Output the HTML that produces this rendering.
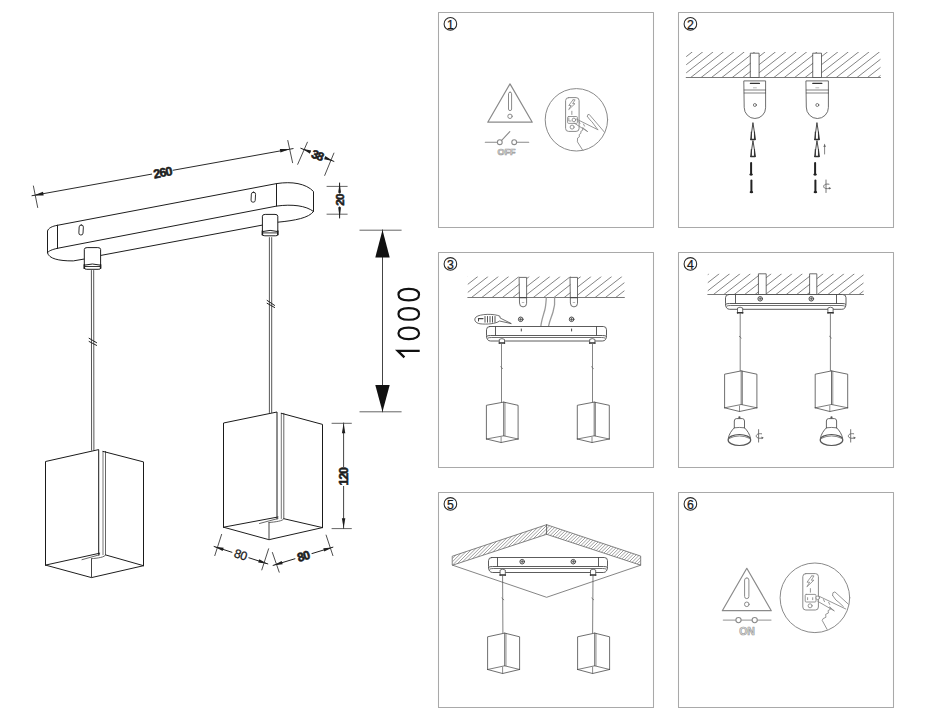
<!DOCTYPE html>
<html><head><meta charset="utf-8"><style>
html,body{margin:0;padding:0;background:#fff;}
svg{display:block;}
</style></head><body>
<svg width="925" height="720" viewBox="0 0 925 720" stroke-linecap="round" stroke-linejoin="round">
<rect width="925" height="720" fill="#fff"/>
<path d="M57.5,225.3 L276.5,183.6 C292,181.2 306,183.5 313.5,191.5 L313.5,210.6" stroke="#1e1e1e" stroke-width="1.0" fill="none" />
<line x1="276.50" y1="183.60" x2="276.50" y2="206.10" stroke="#1e1e1e" stroke-width="1.0" />
<path d="M57.5,248.3 L276.5,206.1 C292,204 306,205.5 313.5,211.5" stroke="#1e1e1e" stroke-width="1.0" fill="none" />
<path d="M313.5,211.5 C309,218 295,220.5 277.8,222.2 L100.9,255.4" stroke="#1e1e1e" stroke-width="1.0" fill="none" />
<path d="M57.5,225.3 C52,226.2 48.5,228 47.5,231 L47.5,252.8" stroke="#1e1e1e" stroke-width="1.0" fill="none" />
<line x1="57.50" y1="225.30" x2="57.50" y2="248.30" stroke="#1e1e1e" stroke-width="1.0" />
<path d="M57.5,248.3 C52,249.5 48.5,251 47.5,252.8 C49,258.5 58,261 73.3,260.9 L84.4,259" stroke="#1e1e1e" stroke-width="1.0" fill="none" />
<rect x="79.0" y="225.0" width="4.2" height="10" rx="2" ry="2" fill="none" stroke="#1e1e1e" stroke-width="0.9" transform="rotate(3 81.1 230)"/>
<rect x="251.2" y="192.2" width="4.2" height="10" rx="2" ry="2" fill="none" stroke="#1e1e1e" stroke-width="0.9" transform="rotate(3 253.3 197.2)"/>
<path d="M84.3,268.3 L84.3,249.4 Q84.3,247.6 87.1,247.6 L97.8,247.6 Q100.6,247.6 100.6,249.4 L100.6,268.3 Q100.6,269.3 98.1,269.3 L86.8,269.3 Q84.3,269.3 84.3,268.3 Z" stroke="#1e1e1e" stroke-width="1.0" fill="#fff" />
<path d="M84.3,265.09999999999997 Q92.44999999999999,262.8 100.6,265.09999999999997" stroke="#1e1e1e" stroke-width="1.0" fill="none" />
<line x1="84.90" y1="266.50" x2="100.00" y2="266.50" stroke="#1e1e1e" stroke-width="0.9" />
<line x1="84.30" y1="264.70" x2="84.30" y2="268.30" stroke="#1e1e1e" stroke-width="1.5" />
<line x1="100.60" y1="264.70" x2="100.60" y2="268.30" stroke="#1e1e1e" stroke-width="1.5" />
<path d="M262.4,234.8 L262.4,216.20000000000002 Q262.4,214.4 265.2,214.4 L275.0,214.4 Q277.8,214.4 277.8,216.20000000000002 L277.8,234.8 Q277.8,235.8 275.3,235.8 L264.9,235.8 Q262.4,235.8 262.4,234.8 Z" stroke="#1e1e1e" stroke-width="1.0" fill="#fff" />
<path d="M262.4,231.5 Q270.1,229.2 277.8,231.5" stroke="#1e1e1e" stroke-width="1.0" fill="none" />
<line x1="263.00" y1="232.90" x2="277.20" y2="232.90" stroke="#1e1e1e" stroke-width="0.9" />
<line x1="262.40" y1="231.10" x2="262.40" y2="234.80" stroke="#1e1e1e" stroke-width="1.5" />
<line x1="277.80" y1="231.10" x2="277.80" y2="234.80" stroke="#1e1e1e" stroke-width="1.5" />
<line x1="91.40" y1="270.50" x2="91.60" y2="450.20" stroke="#444" stroke-width="0.9" />
<line x1="93.70" y1="270.50" x2="93.90" y2="450.20" stroke="#444" stroke-width="0.9" />
<line x1="269.40" y1="237.60" x2="269.40" y2="412.50" stroke="#444" stroke-width="0.9" />
<line x1="271.70" y1="237.60" x2="271.70" y2="412.50" stroke="#444" stroke-width="0.9" />
<line x1="89.10" y1="338.30" x2="96.60" y2="342.70" stroke="#222" stroke-width="1.0" />
<line x1="89.10" y1="341.50" x2="96.60" y2="345.40" stroke="#222" stroke-width="1.0" />
<line x1="267.10" y1="300.40" x2="274.60" y2="305.40" stroke="#222" stroke-width="1.0" />
<line x1="267.10" y1="303.30" x2="274.60" y2="307.50" stroke="#222" stroke-width="1.0" />
<line x1="32.00" y1="195.70" x2="293.10" y2="148.60" stroke="#2a2a2a" stroke-width="1.0" />
<polygon points="33.50,195.40 43.02,191.85 43.66,195.39" fill="#1e1e1e" stroke="none" stroke-width="0"/>
<polygon points="290.00,149.00 280.48,152.54 279.84,149.00" fill="#1e1e1e" stroke="none" stroke-width="0"/>
<line x1="33.40" y1="186.00" x2="37.70" y2="207.50" stroke="#3a3a3a" stroke-width="0.9" />
<line x1="287.80" y1="140.50" x2="292.60" y2="162.70" stroke="#3a3a3a" stroke-width="0.9" />
<rect x="152" y="167" width="21" height="11" fill="#fff" transform="rotate(-10.2 162.5 172.5)"/>
<text x="162.50" y="172.90" font-family="Liberation Sans" font-size="12.5" font-weight="bold" fill="#1e1e1e" text-anchor="middle" dominant-baseline="central" letter-spacing="-0.9" transform="rotate(-10.2 162.50 172.90)" stroke="#111" stroke-width="0.55" paint-order="stroke">260</text>
<line x1="307.40" y1="142.20" x2="297.70" y2="164.30" stroke="#3a3a3a" stroke-width="0.9" />
<line x1="333.90" y1="153.10" x2="324.70" y2="175.40" stroke="#3a3a3a" stroke-width="0.9" />
<line x1="300.80" y1="148.30" x2="333.90" y2="161.40" stroke="#1e1e1e" stroke-width="1.0" />
<polygon points="302.30,148.80 311.33,150.43 310.01,153.78" fill="#1e1e1e" stroke="none" stroke-width="0"/>
<polygon points="333.00,160.90 323.97,159.28 325.28,155.93" fill="#1e1e1e" stroke="none" stroke-width="0"/>
<rect x="310" y="150" width="15" height="10" fill="#fff" transform="rotate(22 317.3 155.1)"/>
<text x="317.30" y="155.40" font-family="Liberation Sans" font-size="12" font-weight="bold" fill="#1e1e1e" text-anchor="middle" dominant-baseline="central" letter-spacing="-1.0" transform="rotate(22 317.30 155.40)" stroke="#111" stroke-width="0.55" paint-order="stroke">38</text>
<line x1="327.00" y1="186.40" x2="347.20" y2="186.40" stroke="#555" stroke-width="0.9" />
<line x1="327.00" y1="214.20" x2="347.20" y2="214.20" stroke="#555" stroke-width="0.9" />
<line x1="339.60" y1="183.00" x2="339.60" y2="218.00" stroke="#1e1e1e" stroke-width="1.0" />
<polygon points="339.60,183.00 341.00,192.80 338.20,192.80" fill="#1e1e1e" stroke="none" stroke-width="0"/>
<polygon points="339.60,217.80 338.20,207.20 341.00,207.20" fill="#1e1e1e" stroke="none" stroke-width="0"/>
<rect x="334" y="193.5" width="11" height="13" fill="#fff"/>
<text x="339.80" y="200.00" font-family="Liberation Sans" font-size="11.8" font-weight="bold" fill="#1e1e1e" text-anchor="middle" dominant-baseline="central" letter-spacing="-0.9" transform="rotate(-90 339.80 200.00)" stroke="#111" stroke-width="0.55" paint-order="stroke">20</text>
<line x1="359.90" y1="230.20" x2="401.20" y2="230.20" stroke="#555" stroke-width="0.9" />
<line x1="359.90" y1="411.80" x2="401.20" y2="411.80" stroke="#555" stroke-width="0.9" />
<line x1="382.50" y1="229.90" x2="382.50" y2="411.80" stroke="#444" stroke-width="1.0" />
<polygon points="382.50,229.90 375.30,257.40 389.70,257.40" fill="#111" stroke="none" stroke-width="0"/>
<polygon points="382.50,411.80 375.30,384.90 389.70,384.90" fill="#111" stroke="none" stroke-width="0"/>
<path d="M398.45,294.6 C398.45,288.8 404.836,288.8 408.75,288.8 C412.664,288.8 419.05,288.8 419.05,294.6 C419.05,300.40000000000003 412.664,300.40000000000003 408.75,300.40000000000003 C404.836,300.40000000000003 398.45,300.40000000000003 398.45,294.6 Z" stroke="#111" stroke-width="2.15" fill="none" />
<path d="M398.45,313.95 C398.45,308.15 404.836,308.15 408.75,308.15 C412.664,308.15 419.05,308.15 419.05,313.95 C419.05,319.75 412.664,319.75 408.75,319.75 C404.836,319.75 398.45,319.75 398.45,313.95 Z" stroke="#111" stroke-width="2.15" fill="none" />
<path d="M398.45,333.35 C398.45,327.55 404.836,327.55 408.75,327.55 C412.664,327.55 419.05,327.55 419.05,333.35 C419.05,339.15000000000003 412.664,339.15000000000003 408.75,339.15000000000003 C404.836,339.15000000000003 398.45,339.15000000000003 398.45,333.35 Z" stroke="#111" stroke-width="2.15" fill="none" />
<path d="M419.7,350.9 L397.8,350.9 L404.4,357.4" stroke="#111" stroke-width="2.3" fill="none" stroke-linecap="butt" stroke-linejoin="miter"/>
<path d="M45.5,565.1 L45.5,461.5 L98.7,449.6 L98.7,555.2" stroke="#1a1a1a" stroke-width="1.0" fill="none" />
<line x1="103.00" y1="451.40" x2="103.00" y2="554.70" stroke="#666" stroke-width="0.9" />
<line x1="105.50" y1="451.40" x2="105.50" y2="554.70" stroke="#555" stroke-width="0.9" />
<path d="M103.0,451.4 L143.5,461.9 L143.5,565.7" stroke="#1a1a1a" stroke-width="1.0" fill="none" />
<path d="M45.5,565.1 L91.5,577.6 L143.5,565.7" stroke="#1e1e1e" stroke-width="1.0" fill="none" />
<path d="M45.5,565.1 L99.7,553.2" stroke="#1e1e1e" stroke-width="1.0" fill="none" />
<path d="M105.5,554.9000000000001 L143.5,565.7" stroke="#1e1e1e" stroke-width="1.0" fill="none" />
<line x1="91.50" y1="577.60" x2="91.50" y2="558.70" stroke="#444" stroke-width="1.0" />
<path d="M82.0,559.7 L99.7,554.7 M91.5,558.7 C97.5,558.2 105.5,557.2 105.5,554.9000000000001" stroke="#555" stroke-width="0.9" fill="none" />
<path d="M223.5,527.2 L223.5,423.0 L277.0,412.0 L277.0,519.0" stroke="#1a1a1a" stroke-width="1.0" fill="none" />
<line x1="281.30" y1="413.30" x2="281.30" y2="518.50" stroke="#666" stroke-width="0.9" />
<line x1="283.80" y1="413.30" x2="283.80" y2="518.50" stroke="#555" stroke-width="0.9" />
<path d="M281.3,413.3 L322.5,424.4 L322.5,527.6" stroke="#1a1a1a" stroke-width="1.0" fill="none" />
<path d="M223.5,527.2 L269.0,539.7 L322.5,527.6" stroke="#1e1e1e" stroke-width="1.0" fill="none" />
<path d="M223.5,527.2 L278.0,517.0" stroke="#1e1e1e" stroke-width="1.0" fill="none" />
<path d="M283.8,518.7 L322.5,527.6" stroke="#1e1e1e" stroke-width="1.0" fill="none" />
<line x1="269.00" y1="539.70" x2="269.00" y2="522.50" stroke="#444" stroke-width="1.0" />
<path d="M259.5,523.5 L278.0,518.5 M269.0,522.5 C275.0,522.0 283.8,521.0 283.8,518.7" stroke="#555" stroke-width="0.9" fill="none" />
<line x1="332.00" y1="423.30" x2="351.40" y2="423.30" stroke="#555" stroke-width="0.9" />
<line x1="332.00" y1="528.60" x2="351.40" y2="528.60" stroke="#555" stroke-width="0.9" />
<line x1="343.60" y1="423.00" x2="343.60" y2="528.60" stroke="#444" stroke-width="1.0" />
<polygon points="343.60,423.30 345.30,433.30 341.90,433.30" fill="#1e1e1e" stroke="none" stroke-width="0"/>
<polygon points="343.60,528.30 341.90,518.30 345.30,518.30" fill="#1e1e1e" stroke="none" stroke-width="0"/>
<rect x="338" y="467" width="12" height="19" fill="#fff"/>
<text x="343.80" y="476.70" font-family="Liberation Sans" font-size="12.2" font-weight="bold" fill="#1e1e1e" text-anchor="middle" dominant-baseline="central" letter-spacing="-1.0" transform="rotate(-90 343.80 476.70)" stroke="#111" stroke-width="0.55" paint-order="stroke">120</text>
<line x1="221.60" y1="534.40" x2="214.80" y2="555.60" stroke="#3a3a3a" stroke-width="0.9" />
<line x1="214.10" y1="546.50" x2="267.80" y2="563.90" stroke="#1e1e1e" stroke-width="1.0" />
<polygon points="214.60,546.70 223.69,547.86 222.64,551.10" fill="#1e1e1e" stroke="none" stroke-width="0"/>
<polygon points="267.30,563.70 258.21,562.55 259.26,559.31" fill="#1e1e1e" stroke="none" stroke-width="0"/>
<line x1="268.60" y1="548.80" x2="261.80" y2="569.90" stroke="#3a3a3a" stroke-width="0.9" />
<rect x="232" y="549.5" width="17" height="11" fill="#fff" transform="rotate(18 240.6 554.8)"/>
<text x="240.60" y="554.90" font-family="Liberation Sans" font-size="12.2" font-weight="normal" fill="#1e1e1e" text-anchor="middle" dominant-baseline="central" letter-spacing="-0.4" transform="rotate(18 240.60 554.90)" stroke="#111" stroke-width="0.25">80</text>
<line x1="272.40" y1="552.50" x2="279.20" y2="572.20" stroke="#3a3a3a" stroke-width="0.9" />
<line x1="273.10" y1="565.40" x2="332.90" y2="547.20" stroke="#1e1e1e" stroke-width="1.0" />
<polygon points="273.60,565.20 281.71,560.95 282.70,564.20" fill="#1e1e1e" stroke="none" stroke-width="0"/>
<polygon points="332.40,547.40 324.26,551.61 323.29,548.35" fill="#1e1e1e" stroke="none" stroke-width="0"/>
<line x1="326.10" y1="535.10" x2="332.90" y2="555.60" stroke="#3a3a3a" stroke-width="0.9" />
<rect x="295" y="551" width="17" height="11" fill="#fff" transform="rotate(-17 303.4 556.3)"/>
<text x="303.40" y="556.50" font-family="Liberation Sans" font-size="12.2" font-weight="bold" fill="#1e1e1e" text-anchor="middle" dominant-baseline="central" letter-spacing="-0.8" transform="rotate(-17 303.40 556.50)" stroke="#111" stroke-width="0.55" paint-order="stroke">80</text>
<rect x="438.5" y="12.5" width="215" height="215" fill="none" stroke="#a9a9a9" stroke-width="1.05"/>
<circle cx="450.4" cy="23.9" r="6.3" fill="none" stroke="#2a2a2a" stroke-width="1.05"/>
<text x="450.30" y="24.60" font-family="Liberation Sans" font-size="12.3" font-weight="normal" fill="#1a1a1a" text-anchor="middle" dominant-baseline="central" letter-spacing="0" transform="rotate(0 450.30 24.60)" stroke="#1a1a1a" stroke-width="0.25">1</text>
<rect x="678.5" y="12.5" width="215" height="215" fill="none" stroke="#a9a9a9" stroke-width="1.05"/>
<circle cx="690.4" cy="23.9" r="6.3" fill="none" stroke="#2a2a2a" stroke-width="1.05"/>
<text x="690.30" y="24.60" font-family="Liberation Sans" font-size="12.3" font-weight="normal" fill="#1a1a1a" text-anchor="middle" dominant-baseline="central" letter-spacing="0" transform="rotate(0 690.30 24.60)" stroke="#1a1a1a" stroke-width="0.25">2</text>
<rect x="438.5" y="252.5" width="215" height="215" fill="none" stroke="#a9a9a9" stroke-width="1.05"/>
<circle cx="450.4" cy="263.9" r="6.3" fill="none" stroke="#2a2a2a" stroke-width="1.05"/>
<text x="450.30" y="264.60" font-family="Liberation Sans" font-size="12.3" font-weight="normal" fill="#1a1a1a" text-anchor="middle" dominant-baseline="central" letter-spacing="0" transform="rotate(0 450.30 264.60)" stroke="#1a1a1a" stroke-width="0.25">3</text>
<rect x="678.5" y="252.5" width="215" height="215" fill="none" stroke="#a9a9a9" stroke-width="1.05"/>
<circle cx="690.4" cy="263.9" r="6.3" fill="none" stroke="#2a2a2a" stroke-width="1.05"/>
<text x="690.30" y="264.60" font-family="Liberation Sans" font-size="12.3" font-weight="normal" fill="#1a1a1a" text-anchor="middle" dominant-baseline="central" letter-spacing="0" transform="rotate(0 690.30 264.60)" stroke="#1a1a1a" stroke-width="0.25">4</text>
<rect x="438.5" y="492.5" width="215" height="215" fill="none" stroke="#a9a9a9" stroke-width="1.05"/>
<circle cx="450.4" cy="503.9" r="6.3" fill="none" stroke="#2a2a2a" stroke-width="1.05"/>
<text x="450.30" y="504.60" font-family="Liberation Sans" font-size="12.3" font-weight="normal" fill="#1a1a1a" text-anchor="middle" dominant-baseline="central" letter-spacing="0" transform="rotate(0 450.30 504.60)" stroke="#1a1a1a" stroke-width="0.25">5</text>
<rect x="678.5" y="492.5" width="215" height="215" fill="none" stroke="#a9a9a9" stroke-width="1.05"/>
<circle cx="690.4" cy="503.9" r="6.3" fill="none" stroke="#2a2a2a" stroke-width="1.05"/>
<text x="690.30" y="504.60" font-family="Liberation Sans" font-size="12.3" font-weight="normal" fill="#1a1a1a" text-anchor="middle" dominant-baseline="central" letter-spacing="0" transform="rotate(0 690.30 504.60)" stroke="#1a1a1a" stroke-width="0.25">6</text>
<path d="M510,83.9 L532.25,122.2 L487.75,122.2 Z" stroke="#8a8a8a" stroke-width="1.2" fill="none" />
<rect x="508.5" y="92.2" width="3.1000000000000227" height="18.39999999999999" rx="1.5500000000000114" fill="none" stroke="#8a8a8a" stroke-width="1"/>
<circle cx="510" cy="116.3" r="2.2" fill="none" stroke="#8a8a8a" stroke-width="1"/>
<line x1="485.30" y1="142.20" x2="497.40" y2="142.20" stroke="#8a8a8a" stroke-width="1.1" />
<line x1="516.70" y1="142.20" x2="528.70" y2="142.20" stroke="#8a8a8a" stroke-width="1.1" />
<circle cx="499.8" cy="142.2" r="2.4" fill="none" stroke="#8a8a8a" stroke-width="1.1"/>
<circle cx="514.2" cy="142.2" r="2.4" fill="none" stroke="#8a8a8a" stroke-width="1.1"/>
<line x1="501.40" y1="140.60" x2="509.80" y2="131.70" stroke="#8a8a8a" stroke-width="1.1" />
<text x="506.60" y="152.40" font-family="Liberation Sans" font-size="9" font-weight="bold" fill="#e6e6e6" text-anchor="middle" dominant-baseline="central" letter-spacing="0" transform="rotate(0 506.60 152.40)" stroke="#999" stroke-width="0.65" letter-spacing="-0.3">OFF</text>
<circle cx="576.4" cy="119.8" r="31.2" fill="none" stroke="#8a8a8a" stroke-width="1"/>
<rect x="565.60" y="97.60" width="13.50" height="33.80" rx="3" fill="none" stroke="#8a8a8a" stroke-width="1"/>
<path d="M573.02,99.79 L575.09,99.79 L572.66,103.66 L575.00,103.66 L568.70,109.60 L571.13,105.46 L568.79,105.46 L573.02,99.79" stroke="#8a8a8a" stroke-width="0.85" fill="none" />
<path d="M571.85,111.22 L571.85,114.46" stroke="#8a8a8a" stroke-width="0.9" fill="none" />
<rect x="567.60" y="116.50" width="9.80" height="6.90" rx="1" fill="none" stroke="#8a8a8a" stroke-width="0.9"/>
<path d="M568.80,118.00 L568.80,121.00 L571.10,121.00" stroke="#8a8a8a" stroke-width="0.8" fill="none" />
<circle cx="572.10" cy="127.10" r="2.0" fill="none" stroke="#8a8a8a" stroke-width="0.9"/>
<circle cx="573.90" cy="119.90" r="1.8" fill="#fff" stroke="#8a8a8a" stroke-width="0.9"/>
<path d="M576.70,119.20 L597.80,129.70" stroke="#8a8a8a" stroke-width="0.9" fill="none" />
<path d="M574.20,123.10 L587.40,131.40" stroke="#8a8a8a" stroke-width="0.9" fill="none" />
<path d="M582.90,127.90 L587.40,131.40" stroke="#8a8a8a" stroke-width="0.9" fill="none" />
<path d="M587.40,116.50 L587.80,114.70 L589.20,114.40 L604.40,132.10" stroke="#8a8a8a" stroke-width="0.9" fill="none" />
<path d="M587.40,116.50 L589.90,119.80 L591.90,121.70 L597.80,129.70" stroke="#8a8a8a" stroke-width="0.9" fill="none" />
<path d="M582.90,127.90 L582.60,130.30 L580.90,131.30 L580.90,133.30 L579.20,134.60 L579.40,136.80 L577.60,138.00 L577.40,141.80 L582.90,150.50" stroke="#8a8a8a" stroke-width="0.9" fill="none" />
<path d="M578.90,121.40 L579.90,123.40" stroke="#8a8a8a" stroke-width="0.9" fill="none" />
<path d="M583.50,124.10 L584.50,126.10" stroke="#8a8a8a" stroke-width="0.9" fill="none" />
<clipPath id="hc1"><rect x="686.2" y="51.9" width="194.29999999999995" height="25.6"/></clipPath>
<g clip-path="url(#hc1)">
<line x1="659.48" y1="77.50" x2="692.30" y2="51.90" stroke="#6e6e6e" stroke-width="0.85" />
<line x1="669.88" y1="77.50" x2="702.70" y2="51.90" stroke="#6e6e6e" stroke-width="0.85" />
<line x1="680.28" y1="77.50" x2="713.10" y2="51.90" stroke="#6e6e6e" stroke-width="0.85" />
<line x1="690.68" y1="77.50" x2="723.50" y2="51.90" stroke="#6e6e6e" stroke-width="0.85" />
<line x1="701.08" y1="77.50" x2="733.90" y2="51.90" stroke="#6e6e6e" stroke-width="0.85" />
<line x1="711.48" y1="77.50" x2="744.30" y2="51.90" stroke="#6e6e6e" stroke-width="0.85" />
<line x1="721.88" y1="77.50" x2="754.70" y2="51.90" stroke="#6e6e6e" stroke-width="0.85" />
<line x1="732.28" y1="77.50" x2="765.10" y2="51.90" stroke="#6e6e6e" stroke-width="0.85" />
<line x1="742.68" y1="77.50" x2="775.50" y2="51.90" stroke="#6e6e6e" stroke-width="0.85" />
<line x1="753.08" y1="77.50" x2="785.90" y2="51.90" stroke="#6e6e6e" stroke-width="0.85" />
<line x1="763.48" y1="77.50" x2="796.30" y2="51.90" stroke="#6e6e6e" stroke-width="0.85" />
<line x1="773.88" y1="77.50" x2="806.70" y2="51.90" stroke="#6e6e6e" stroke-width="0.85" />
<line x1="784.28" y1="77.50" x2="817.10" y2="51.90" stroke="#6e6e6e" stroke-width="0.85" />
<line x1="794.68" y1="77.50" x2="827.50" y2="51.90" stroke="#6e6e6e" stroke-width="0.85" />
<line x1="805.08" y1="77.50" x2="837.90" y2="51.90" stroke="#6e6e6e" stroke-width="0.85" />
<line x1="815.48" y1="77.50" x2="848.30" y2="51.90" stroke="#6e6e6e" stroke-width="0.85" />
<line x1="825.88" y1="77.50" x2="858.70" y2="51.90" stroke="#6e6e6e" stroke-width="0.85" />
<line x1="836.28" y1="77.50" x2="869.10" y2="51.90" stroke="#6e6e6e" stroke-width="0.85" />
<line x1="846.68" y1="77.50" x2="879.50" y2="51.90" stroke="#6e6e6e" stroke-width="0.85" />
<line x1="857.08" y1="77.50" x2="889.90" y2="51.90" stroke="#6e6e6e" stroke-width="0.85" />
<line x1="867.48" y1="77.50" x2="900.30" y2="51.90" stroke="#6e6e6e" stroke-width="0.85" />
<line x1="877.88" y1="77.50" x2="910.70" y2="51.90" stroke="#6e6e6e" stroke-width="0.85" />
</g>
<line x1="686.20" y1="77.50" x2="880.50" y2="77.50" stroke="#6a6a6a" stroke-width="0.9" />
<rect x="750.6999999999999" y="53.2" width="8.4" height="24.3" fill="#fff" stroke="#4a4a4a" stroke-width="0.8"/>
<path d="M744.2,80.9 L765.6,80.9 L765.6,107.80000000000001 A10.699999999999989,10.699999999999989 0 0 1 744.2,107.80000000000001 Z" stroke="#4a4a4a" stroke-width="0.8" fill="#fff" />
<line x1="750.40" y1="83.40" x2="759.40" y2="83.40" stroke="#333" stroke-width="1.3" />
<line x1="744.20" y1="90.00" x2="765.60" y2="90.00" stroke="#4a4a4a" stroke-width="0.7" />
<line x1="744.20" y1="93.00" x2="765.60" y2="93.00" stroke="#4a4a4a" stroke-width="0.7" />
<line x1="753.40" y1="87.80" x2="756.40" y2="87.80" stroke="#888" stroke-width="0.6" />
<circle cx="754.9" cy="105" r="1.5" fill="none" stroke="#4a4a4a" stroke-width="0.7"/>
<rect x="813.0999999999999" y="53.2" width="8.4" height="24.3" fill="#fff" stroke="#4a4a4a" stroke-width="0.8"/>
<path d="M806.3,80.9 L828.4,80.9 L828.4,107.44999999999999 A11.050000000000011,11.050000000000011 0 0 1 806.3,107.44999999999999 Z" stroke="#4a4a4a" stroke-width="0.8" fill="#fff" />
<line x1="812.80" y1="83.40" x2="821.80" y2="83.40" stroke="#333" stroke-width="1.3" />
<line x1="806.30" y1="90.00" x2="828.40" y2="90.00" stroke="#4a4a4a" stroke-width="0.7" />
<line x1="806.30" y1="93.00" x2="828.40" y2="93.00" stroke="#4a4a4a" stroke-width="0.7" />
<line x1="815.80" y1="87.80" x2="818.80" y2="87.80" stroke="#888" stroke-width="0.6" />
<circle cx="817.3" cy="105" r="1.5" fill="none" stroke="#4a4a4a" stroke-width="0.7"/>
<path d="M752.9,123 L750.6999999999999,139.5 L755.1,139.5 Z" stroke="#333" stroke-width="0.9" fill="#fff" />
<path d="M751.3,132.075 L751.3,138.5 M754.5,132.075 L754.5,138.5" stroke="#333" stroke-width="1.1" fill="none" />
<line x1="750.70" y1="139.50" x2="755.10" y2="139.50" stroke="#333" stroke-width="1.3" />
<path d="M752.9,141 L750.6999999999999,156.5 L755.1,156.5 Z" stroke="#333" stroke-width="0.9" fill="#fff" />
<path d="M751.3,149.525 L751.3,155.5 M754.5,149.525 L754.5,155.5" stroke="#333" stroke-width="1.1" fill="none" />
<line x1="750.70" y1="156.50" x2="755.10" y2="156.50" stroke="#333" stroke-width="1.3" />
<line x1="751.10" y1="163.00" x2="751.10" y2="174.10" stroke="#222" stroke-width="2.0" />
<ellipse cx="751.1" cy="174.6" rx="1.8" ry="1.1" fill="#222"/>
<line x1="751.40" y1="180.50" x2="751.40" y2="191.70" stroke="#222" stroke-width="2.0" />
<ellipse cx="751.4" cy="192.2" rx="1.8" ry="1.1" fill="#222"/>
<path d="M816.9,123 L814.6999999999999,139.5 L819.1,139.5 Z" stroke="#333" stroke-width="0.9" fill="#fff" />
<path d="M815.3,132.075 L815.3,138.5 M818.5,132.075 L818.5,138.5" stroke="#333" stroke-width="1.1" fill="none" />
<line x1="814.70" y1="139.50" x2="819.10" y2="139.50" stroke="#333" stroke-width="1.3" />
<path d="M816.9,141 L814.6999999999999,156.5 L819.1,156.5 Z" stroke="#333" stroke-width="0.9" fill="#fff" />
<path d="M815.3,149.525 L815.3,155.5 M818.5,149.525 L818.5,155.5" stroke="#333" stroke-width="1.1" fill="none" />
<line x1="814.70" y1="156.50" x2="819.10" y2="156.50" stroke="#333" stroke-width="1.3" />
<line x1="815.10" y1="163.00" x2="815.10" y2="174.10" stroke="#222" stroke-width="2.0" />
<ellipse cx="815.1" cy="174.6" rx="1.8" ry="1.1" fill="#222"/>
<line x1="815.40" y1="180.50" x2="815.40" y2="191.70" stroke="#222" stroke-width="2.0" />
<ellipse cx="815.4" cy="192.2" rx="1.8" ry="1.1" fill="#222"/>
<line x1="824.60" y1="145.00" x2="824.60" y2="154.00" stroke="#666" stroke-width="0.8" />
<polygon points="824.60,143.50 823.40,147.00 825.80,147.00" fill="#666" stroke="none" stroke-width="0"/>
<line x1="826.00" y1="180.00" x2="826.00" y2="192.50" stroke="#666" stroke-width="0.9" />
<path d="M829.0,184.2 C824.0,183.2 822.5,186.5 824.5,188.0 C826,189.0 828.5,188.6 830.0,188.4" stroke="#666" stroke-width="0.9" fill="none" />
<polygon points="831.20,188.20 828.80,187.00 829.00,189.60" fill="#666" stroke="none" stroke-width="0"/>
<clipPath id="hc2"><rect x="467.8" y="276.6" width="156.59999999999997" height="20.899999999999977"/></clipPath>
<g clip-path="url(#hc2)">
<line x1="440.61" y1="297.50" x2="467.40" y2="276.60" stroke="#6e6e6e" stroke-width="0.85" />
<line x1="450.91" y1="297.50" x2="477.70" y2="276.60" stroke="#6e6e6e" stroke-width="0.85" />
<line x1="461.21" y1="297.50" x2="488.00" y2="276.60" stroke="#6e6e6e" stroke-width="0.85" />
<line x1="471.51" y1="297.50" x2="498.30" y2="276.60" stroke="#6e6e6e" stroke-width="0.85" />
<line x1="481.81" y1="297.50" x2="508.60" y2="276.60" stroke="#6e6e6e" stroke-width="0.85" />
<line x1="492.11" y1="297.50" x2="518.90" y2="276.60" stroke="#6e6e6e" stroke-width="0.85" />
<line x1="502.41" y1="297.50" x2="529.20" y2="276.60" stroke="#6e6e6e" stroke-width="0.85" />
<line x1="512.71" y1="297.50" x2="539.50" y2="276.60" stroke="#6e6e6e" stroke-width="0.85" />
<line x1="523.01" y1="297.50" x2="549.80" y2="276.60" stroke="#6e6e6e" stroke-width="0.85" />
<line x1="533.31" y1="297.50" x2="560.10" y2="276.60" stroke="#6e6e6e" stroke-width="0.85" />
<line x1="543.61" y1="297.50" x2="570.40" y2="276.60" stroke="#6e6e6e" stroke-width="0.85" />
<line x1="553.91" y1="297.50" x2="580.70" y2="276.60" stroke="#6e6e6e" stroke-width="0.85" />
<line x1="564.21" y1="297.50" x2="591.00" y2="276.60" stroke="#6e6e6e" stroke-width="0.85" />
<line x1="574.51" y1="297.50" x2="601.30" y2="276.60" stroke="#6e6e6e" stroke-width="0.85" />
<line x1="584.81" y1="297.50" x2="611.60" y2="276.60" stroke="#6e6e6e" stroke-width="0.85" />
<line x1="595.11" y1="297.50" x2="621.90" y2="276.60" stroke="#6e6e6e" stroke-width="0.85" />
<line x1="605.41" y1="297.50" x2="632.20" y2="276.60" stroke="#6e6e6e" stroke-width="0.85" />
<line x1="615.71" y1="297.50" x2="642.50" y2="276.60" stroke="#6e6e6e" stroke-width="0.85" />
</g>
<line x1="467.80" y1="297.50" x2="624.40" y2="297.50" stroke="#6a6a6a" stroke-width="0.9" />
<path d="M519.5,277.4 L526.6,277.4 L526.6,303.34999999999997 A3.5500000000000114,3.5500000000000114 0 0 1 519.5,303.34999999999997 Z" stroke="#4a4a4a" stroke-width="0.8" fill="#fff" />
<line x1="519.50" y1="297.60" x2="526.60" y2="297.60" stroke="#4a4a4a" stroke-width="1.2" />
<line x1="522.25" y1="302.50" x2="523.85" y2="302.50" stroke="#888" stroke-width="0.6" />
<path d="M570.4,277.4 L577.5,277.4 L577.5,303.34999999999997 A3.5500000000000114,3.5500000000000114 0 0 1 570.4,303.34999999999997 Z" stroke="#4a4a4a" stroke-width="0.8" fill="#fff" />
<line x1="570.40" y1="297.60" x2="577.50" y2="297.60" stroke="#4a4a4a" stroke-width="1.2" />
<line x1="573.15" y1="302.50" x2="574.75" y2="302.50" stroke="#888" stroke-width="0.6" />
<path d="M546.3,297.9 C546,302 545.8,306 544.8,310 C543.5,315 541.5,320 540.9,326" stroke="#9a9a9a" stroke-width="1.3" fill="none" />
<path d="M554.6,297.9 C555,302 554.6,307 553,312 C551.5,317 549.5,321 548.6,326" stroke="#9a9a9a" stroke-width="1.3" fill="none" />
<circle cx="520.7" cy="319.3" r="2.3" fill="#fff" stroke="#444" stroke-width="0.95"/>
<line x1="519.44" y1="319.30" x2="521.97" y2="319.30" stroke="#444" stroke-width="0.8" />
<line x1="520.70" y1="318.04" x2="520.70" y2="320.56" stroke="#444" stroke-width="0.8" />
<circle cx="571.6" cy="319.3" r="2.3" fill="#fff" stroke="#444" stroke-width="0.95"/>
<line x1="570.34" y1="319.30" x2="572.87" y2="319.30" stroke="#444" stroke-width="0.8" />
<line x1="571.60" y1="318.04" x2="571.60" y2="320.56" stroke="#444" stroke-width="0.8" />
<path d="M499.5,316 C494,313.5 480,313.8 476,317 C473.5,319.5 475,323 480,323.8 C487,324.6 496,323.8 499.5,321 L511.3,323.6 L500.5,318.2 Z" stroke="#4a4a4a" stroke-width="0.8" fill="#fff" />
<line x1="478.50" y1="318.60" x2="483.00" y2="318.60" stroke="#444" stroke-width="1.2" />
<line x1="478.50" y1="318.60" x2="478.50" y2="321.00" stroke="#444" stroke-width="1.0" />
<line x1="485.00" y1="316.50" x2="485.00" y2="322.20" stroke="#555" stroke-width="1.0" />
<line x1="487.50" y1="316.50" x2="487.50" y2="322.20" stroke="#555" stroke-width="1.0" />
<line x1="490.00" y1="316.50" x2="490.00" y2="322.20" stroke="#555" stroke-width="1.0" />
<line x1="492.50" y1="316.50" x2="492.50" y2="322.20" stroke="#555" stroke-width="1.0" />
<line x1="495.00" y1="316.50" x2="495.00" y2="322.20" stroke="#555" stroke-width="1.0" />
<path d="M489.7,326.5 L603.3,326.5 Q606.5,326.5 606.5,329.7 L606.5,335.5 Q606.5,341.0 602.3,341.0 L490.7,341.0 Q486.5,341.0 486.5,335.5 L486.5,329.7 Q486.5,326.5 489.7,326.5 Z" stroke="#4a4a4a" stroke-width="0.9" fill="#fff" />
<line x1="495.50" y1="326.50" x2="495.50" y2="335.50" stroke="#4a4a4a" stroke-width="0.9" />
<line x1="596.50" y1="326.50" x2="596.50" y2="335.50" stroke="#4a4a4a" stroke-width="0.9" />
<path d="M486.8,336.1 Q487.7,335.5 490.5,335.5 L602.5,335.5 Q605.3,335.5 606.2,336.1" stroke="#4a4a4a" stroke-width="0.9" fill="none" />
<path d="M488.0,338.0 Q489.0,337.5 491.5,337.5 L601.5,337.5 Q604.0,337.5 605.0,338.0" stroke="#4a4a4a" stroke-width="0.8" fill="none" />
<line x1="521.30" y1="329.00" x2="521.30" y2="331.00" stroke="#444" stroke-width="1.0" />
<line x1="571.60" y1="329.00" x2="571.60" y2="331.00" stroke="#444" stroke-width="1.0" />
<path d="M499.29999999999995,343.6 L499.29999999999995,339.4 Q501.9,337.79999999999995 504.5,339.4 L504.5,343.6" fill="#fff" stroke="#4a4a4a" stroke-width="0.8"/>
<line x1="499.20" y1="343.00" x2="504.60" y2="343.00" stroke="#333" stroke-width="1.4" />
<path d="M589.6999999999999,343.6 L589.6999999999999,339.4 Q592.3,337.79999999999995 594.9,339.4 L594.9,343.6" fill="#fff" stroke="#4a4a4a" stroke-width="0.8"/>
<line x1="589.60" y1="343.00" x2="595.00" y2="343.00" stroke="#333" stroke-width="1.4" />
<line x1="501.50" y1="343.60" x2="501.50" y2="402.30" stroke="#666" stroke-width="0.8" />
<line x1="592.50" y1="343.60" x2="592.50" y2="402.30" stroke="#666" stroke-width="0.8" />
<path d="M486.4,439.0 L486.4,405.3 L503.7,402.1 L518.1,405.3 L518.1,439.0" stroke="#4a4a4a" stroke-width="0.8" fill="#fff" />
<line x1="503.70" y1="402.10" x2="503.70" y2="435.80" stroke="#4a4a4a" stroke-width="0.8" />
<line x1="505.00" y1="402.40" x2="505.00" y2="435.80" stroke="#4a4a4a" stroke-width="0.6" />
<path d="M486.4,439.0 L501.1,442.5 L518.1,439.0" stroke="#4a4a4a" stroke-width="0.8" fill="none" />
<path d="M486.4,439.0 L503.7,435.8 L518.1,439.0" stroke="#4a4a4a" stroke-width="0.7200000000000001" fill="none" />
<line x1="501.10" y1="442.50" x2="501.10" y2="437.30" stroke="#4a4a4a" stroke-width="0.6400000000000001" />
<path d="M577.3,439.0 L577.3,405.3 L594.2,402.1 L609.3,405.3 L609.3,439.0" stroke="#4a4a4a" stroke-width="0.8" fill="#fff" />
<line x1="594.20" y1="402.10" x2="594.20" y2="435.80" stroke="#4a4a4a" stroke-width="0.8" />
<line x1="595.50" y1="402.40" x2="595.50" y2="435.80" stroke="#4a4a4a" stroke-width="0.6" />
<path d="M577.3,439.0 L592.0,442.5 L609.3,439.0" stroke="#4a4a4a" stroke-width="0.8" fill="none" />
<path d="M577.3,439.0 L594.2,435.8 L609.3,439.0" stroke="#4a4a4a" stroke-width="0.7200000000000001" fill="none" />
<line x1="592.00" y1="442.50" x2="592.00" y2="437.30" stroke="#4a4a4a" stroke-width="0.6400000000000001" />
<clipPath id="hc3"><rect x="707.8" y="273.8" width="155.70000000000005" height="20.69999999999999"/></clipPath>
<g clip-path="url(#hc3)">
<line x1="682.26" y1="294.50" x2="708.80" y2="273.80" stroke="#6e6e6e" stroke-width="0.85" />
<line x1="692.66" y1="294.50" x2="719.20" y2="273.80" stroke="#6e6e6e" stroke-width="0.85" />
<line x1="703.06" y1="294.50" x2="729.60" y2="273.80" stroke="#6e6e6e" stroke-width="0.85" />
<line x1="713.46" y1="294.50" x2="740.00" y2="273.80" stroke="#6e6e6e" stroke-width="0.85" />
<line x1="723.86" y1="294.50" x2="750.40" y2="273.80" stroke="#6e6e6e" stroke-width="0.85" />
<line x1="734.26" y1="294.50" x2="760.80" y2="273.80" stroke="#6e6e6e" stroke-width="0.85" />
<line x1="744.66" y1="294.50" x2="771.20" y2="273.80" stroke="#6e6e6e" stroke-width="0.85" />
<line x1="755.06" y1="294.50" x2="781.60" y2="273.80" stroke="#6e6e6e" stroke-width="0.85" />
<line x1="765.46" y1="294.50" x2="792.00" y2="273.80" stroke="#6e6e6e" stroke-width="0.85" />
<line x1="775.86" y1="294.50" x2="802.40" y2="273.80" stroke="#6e6e6e" stroke-width="0.85" />
<line x1="786.26" y1="294.50" x2="812.80" y2="273.80" stroke="#6e6e6e" stroke-width="0.85" />
<line x1="796.66" y1="294.50" x2="823.20" y2="273.80" stroke="#6e6e6e" stroke-width="0.85" />
<line x1="807.06" y1="294.50" x2="833.60" y2="273.80" stroke="#6e6e6e" stroke-width="0.85" />
<line x1="817.46" y1="294.50" x2="844.00" y2="273.80" stroke="#6e6e6e" stroke-width="0.85" />
<line x1="827.86" y1="294.50" x2="854.40" y2="273.80" stroke="#6e6e6e" stroke-width="0.85" />
<line x1="838.26" y1="294.50" x2="864.80" y2="273.80" stroke="#6e6e6e" stroke-width="0.85" />
<line x1="848.66" y1="294.50" x2="875.20" y2="273.80" stroke="#6e6e6e" stroke-width="0.85" />
<line x1="859.06" y1="294.50" x2="885.60" y2="273.80" stroke="#6e6e6e" stroke-width="0.85" />
</g>
<line x1="707.80" y1="294.50" x2="863.50" y2="294.50" stroke="#6a6a6a" stroke-width="0.9" />
<rect x="758.8" y="273.8" width="7.400000000000091" height="20.7" fill="#fff" stroke="#4a4a4a" stroke-width="0.8"/>
<rect x="810" y="273.8" width="6.7999999999999545" height="20.7" fill="#fff" stroke="#4a4a4a" stroke-width="0.8"/>
<path d="M728.7,294.5 L842.8,294.5 Q846.0,294.5 846.0,297.7 L846.0,303.5 Q846.0,309.3 841.8,309.3 L729.7,309.3 Q725.5,309.3 725.5,303.5 L725.5,297.7 Q725.5,294.5 728.7,294.5 Z" stroke="#4a4a4a" stroke-width="0.9" fill="#fff" />
<line x1="735.50" y1="294.50" x2="735.50" y2="303.50" stroke="#4a4a4a" stroke-width="0.9" />
<line x1="836.50" y1="294.50" x2="836.50" y2="303.50" stroke="#4a4a4a" stroke-width="0.9" />
<path d="M725.8,304.1 Q726.7,303.5 729.5,303.5 L842.0,303.5 Q844.8,303.5 845.7,304.1" stroke="#4a4a4a" stroke-width="0.9" fill="none" />
<path d="M727.0,306.0 Q728.0,305.5 730.5,305.5 L841.0,305.5 Q843.5,305.5 844.5,306.0" stroke="#4a4a4a" stroke-width="0.8" fill="none" />
<circle cx="760.2" cy="298.8" r="2.3" fill="#fff" stroke="#444" stroke-width="0.95"/>
<line x1="758.94" y1="298.80" x2="761.47" y2="298.80" stroke="#444" stroke-width="0.8" />
<line x1="760.20" y1="297.54" x2="760.20" y2="300.06" stroke="#444" stroke-width="0.8" />
<circle cx="811.3" cy="298.8" r="2.3" fill="#fff" stroke="#444" stroke-width="0.95"/>
<line x1="810.03" y1="298.80" x2="812.56" y2="298.80" stroke="#444" stroke-width="0.8" />
<line x1="811.30" y1="297.54" x2="811.30" y2="300.06" stroke="#444" stroke-width="0.8" />
<path d="M737.5,313.4 L737.5,308.0 Q740.1,306.4 742.7,308.0 L742.7,313.4" fill="#fff" stroke="#4a4a4a" stroke-width="0.8"/>
<line x1="737.40" y1="312.80" x2="742.80" y2="312.80" stroke="#333" stroke-width="1.4" />
<path d="M827.9,313.4 L827.9,308.0 Q830.5,306.4 833.1,308.0 L833.1,313.4" fill="#fff" stroke="#4a4a4a" stroke-width="0.8"/>
<line x1="827.80" y1="312.80" x2="833.20" y2="312.80" stroke="#333" stroke-width="1.4" />
<line x1="740.20" y1="313.60" x2="740.20" y2="371.00" stroke="#4a4a4a" stroke-width="0.7" />
<line x1="830.40" y1="313.60" x2="830.40" y2="371.00" stroke="#4a4a4a" stroke-width="0.7" />
<path d="M724.6,407.8 L724.6,374.2 L741.2,370.9 L756.9,374.2 L756.9,407.8" stroke="#4a4a4a" stroke-width="0.8" fill="#fff" />
<line x1="741.20" y1="370.90" x2="741.20" y2="404.50" stroke="#4a4a4a" stroke-width="0.8" />
<line x1="742.50" y1="371.20" x2="742.50" y2="404.50" stroke="#4a4a4a" stroke-width="0.6" />
<path d="M724.6,407.8 L739.5,411.5 L756.9,407.8" stroke="#4a4a4a" stroke-width="0.8" fill="none" />
<path d="M724.6,407.8 L741.2,404.5 L756.9,407.8" stroke="#4a4a4a" stroke-width="0.7200000000000001" fill="none" />
<line x1="739.50" y1="411.50" x2="739.50" y2="406.00" stroke="#4a4a4a" stroke-width="0.6400000000000001" />
<path d="M815.2,407.8 L815.2,374.2 L831.5,370.9 L847.7,374.2 L847.7,407.8" stroke="#4a4a4a" stroke-width="0.8" fill="#fff" />
<line x1="831.50" y1="370.90" x2="831.50" y2="404.50" stroke="#4a4a4a" stroke-width="0.8" />
<line x1="832.80" y1="371.20" x2="832.80" y2="404.50" stroke="#4a4a4a" stroke-width="0.6" />
<path d="M815.2,407.8 L829.8,411.5 L847.7,407.8" stroke="#4a4a4a" stroke-width="0.8" fill="none" />
<path d="M815.2,407.8 L831.5,404.5 L847.7,407.8" stroke="#4a4a4a" stroke-width="0.7200000000000001" fill="none" />
<line x1="829.80" y1="411.50" x2="829.80" y2="406.00" stroke="#4a4a4a" stroke-width="0.6400000000000001" />
<path d="M734.3,427.8 L734.3,421.0 Q734.3,418.8 736.4,418.6 L742.4,418.6 Q744.5,418.8 744.5,421.0 L744.5,427.8" stroke="#555" stroke-width="0.9" fill="none" />
<path d="M734.3,427.8 Q739.4,427.0 744.5,427.8" stroke="#555" stroke-width="0.8" fill="none" />
<path d="M734.3,427.8 C731.4,430.5 728.9,434.5 728.4,438.0 M744.5,427.8 C747.4,430.5 749.9,434.5 750.4,438.0" stroke="#555" stroke-width="0.9" fill="none" />
<ellipse cx="739.4" cy="440.0" rx="11.3" ry="5.5" fill="none" stroke="#555" stroke-width="1.2"/>
<path d="M728.9,438.5 Q739.4,433.2 749.9,438.5" stroke="#777" stroke-width="0.9" fill="none" />
<circle cx="739.4" cy="417.4" r="1.1" fill="#555"/>
<path d="M826.4,427.8 L826.4,421.0 Q826.4,418.8 828.5,418.6 L834.5,418.6 Q836.6,418.8 836.6,421.0 L836.6,427.8" stroke="#555" stroke-width="0.9" fill="none" />
<path d="M826.4,427.8 Q831.5,427.0 836.6,427.8" stroke="#555" stroke-width="0.8" fill="none" />
<path d="M826.4,427.8 C823.5,430.5 821.0,434.5 820.5,438.0 M836.6,427.8 C839.5,430.5 842.0,434.5 842.5,438.0" stroke="#555" stroke-width="0.9" fill="none" />
<ellipse cx="831.5" cy="440.0" rx="11.3" ry="5.5" fill="none" stroke="#555" stroke-width="1.2"/>
<path d="M821.0,438.5 Q831.5,433.2 842.0,438.5" stroke="#777" stroke-width="0.9" fill="none" />
<circle cx="831.5" cy="417.4" r="1.1" fill="#555"/>
<line x1="758.60" y1="429.60" x2="758.60" y2="442.10" stroke="#666" stroke-width="0.9" />
<path d="M761.6,433.8 C756.6,432.8 755.1,436.1 757.1,437.6 C758.6,438.6 761.1,438.20000000000005 762.6,438.0" stroke="#666" stroke-width="0.9" fill="none" />
<polygon points="763.80,437.80 761.40,436.60 761.60,439.20" fill="#666" stroke="none" stroke-width="0"/>
<line x1="850.70" y1="429.60" x2="850.70" y2="442.10" stroke="#666" stroke-width="0.9" />
<path d="M853.7,433.8 C848.7,432.8 847.2,436.1 849.2,437.6 C850.7,438.6 853.2,438.20000000000005 854.7,438.0" stroke="#666" stroke-width="0.9" fill="none" />
<polygon points="855.90,437.80 853.50,436.60 853.70,439.20" fill="#666" stroke="none" stroke-width="0"/>
<path d="M452.6,556.1 L546.6,524.7 L640.7,556.1 L640.7,565.2 L546.6,597.3 L452.6,565.2 Z" stroke="#666" stroke-width="0.8" fill="#fff" />
<clipPath id="slab"><path d="M452.6,556.1 L546.6,524.7 L640.7,556.1 L640.7,565.2 L546.6,534.3 L452.6,565.2 Z"/></clipPath>
<g clip-path="url(#slab)">
<line x1="400.00" y1="570.00" x2="448.00" y2="522.00" stroke="#6a6a6a" stroke-width="0.65" />
<line x1="403.40" y1="570.00" x2="451.40" y2="522.00" stroke="#6a6a6a" stroke-width="0.65" />
<line x1="406.80" y1="570.00" x2="454.80" y2="522.00" stroke="#6a6a6a" stroke-width="0.65" />
<line x1="410.20" y1="570.00" x2="458.20" y2="522.00" stroke="#6a6a6a" stroke-width="0.65" />
<line x1="413.60" y1="570.00" x2="461.60" y2="522.00" stroke="#6a6a6a" stroke-width="0.65" />
<line x1="417.00" y1="570.00" x2="465.00" y2="522.00" stroke="#6a6a6a" stroke-width="0.65" />
<line x1="420.40" y1="570.00" x2="468.40" y2="522.00" stroke="#6a6a6a" stroke-width="0.65" />
<line x1="423.80" y1="570.00" x2="471.80" y2="522.00" stroke="#6a6a6a" stroke-width="0.65" />
<line x1="427.20" y1="570.00" x2="475.20" y2="522.00" stroke="#6a6a6a" stroke-width="0.65" />
<line x1="430.60" y1="570.00" x2="478.60" y2="522.00" stroke="#6a6a6a" stroke-width="0.65" />
<line x1="434.00" y1="570.00" x2="482.00" y2="522.00" stroke="#6a6a6a" stroke-width="0.65" />
<line x1="437.40" y1="570.00" x2="485.40" y2="522.00" stroke="#6a6a6a" stroke-width="0.65" />
<line x1="440.80" y1="570.00" x2="488.80" y2="522.00" stroke="#6a6a6a" stroke-width="0.65" />
<line x1="444.20" y1="570.00" x2="492.20" y2="522.00" stroke="#6a6a6a" stroke-width="0.65" />
<line x1="447.60" y1="570.00" x2="495.60" y2="522.00" stroke="#6a6a6a" stroke-width="0.65" />
<line x1="451.00" y1="570.00" x2="499.00" y2="522.00" stroke="#6a6a6a" stroke-width="0.65" />
<line x1="454.40" y1="570.00" x2="502.40" y2="522.00" stroke="#6a6a6a" stroke-width="0.65" />
<line x1="457.80" y1="570.00" x2="505.80" y2="522.00" stroke="#6a6a6a" stroke-width="0.65" />
<line x1="461.20" y1="570.00" x2="509.20" y2="522.00" stroke="#6a6a6a" stroke-width="0.65" />
<line x1="464.60" y1="570.00" x2="512.60" y2="522.00" stroke="#6a6a6a" stroke-width="0.65" />
<line x1="468.00" y1="570.00" x2="516.00" y2="522.00" stroke="#6a6a6a" stroke-width="0.65" />
<line x1="471.40" y1="570.00" x2="519.40" y2="522.00" stroke="#6a6a6a" stroke-width="0.65" />
<line x1="474.80" y1="570.00" x2="522.80" y2="522.00" stroke="#6a6a6a" stroke-width="0.65" />
<line x1="478.20" y1="570.00" x2="526.20" y2="522.00" stroke="#6a6a6a" stroke-width="0.65" />
<line x1="481.60" y1="570.00" x2="529.60" y2="522.00" stroke="#6a6a6a" stroke-width="0.65" />
<line x1="485.00" y1="570.00" x2="533.00" y2="522.00" stroke="#6a6a6a" stroke-width="0.65" />
<line x1="488.40" y1="570.00" x2="536.40" y2="522.00" stroke="#6a6a6a" stroke-width="0.65" />
<line x1="491.80" y1="570.00" x2="539.80" y2="522.00" stroke="#6a6a6a" stroke-width="0.65" />
<line x1="495.20" y1="570.00" x2="543.20" y2="522.00" stroke="#6a6a6a" stroke-width="0.65" />
<line x1="498.60" y1="570.00" x2="546.60" y2="522.00" stroke="#6a6a6a" stroke-width="0.65" />
<line x1="502.00" y1="570.00" x2="550.00" y2="522.00" stroke="#6a6a6a" stroke-width="0.65" />
<line x1="505.40" y1="570.00" x2="553.40" y2="522.00" stroke="#6a6a6a" stroke-width="0.65" />
<line x1="508.80" y1="570.00" x2="556.80" y2="522.00" stroke="#6a6a6a" stroke-width="0.65" />
<line x1="512.20" y1="570.00" x2="560.20" y2="522.00" stroke="#6a6a6a" stroke-width="0.65" />
<line x1="515.60" y1="570.00" x2="563.60" y2="522.00" stroke="#6a6a6a" stroke-width="0.65" />
<line x1="519.00" y1="570.00" x2="567.00" y2="522.00" stroke="#6a6a6a" stroke-width="0.65" />
<line x1="522.40" y1="570.00" x2="570.40" y2="522.00" stroke="#6a6a6a" stroke-width="0.65" />
<line x1="525.80" y1="570.00" x2="573.80" y2="522.00" stroke="#6a6a6a" stroke-width="0.65" />
<line x1="529.20" y1="570.00" x2="577.20" y2="522.00" stroke="#6a6a6a" stroke-width="0.65" />
<line x1="532.60" y1="570.00" x2="580.60" y2="522.00" stroke="#6a6a6a" stroke-width="0.65" />
<line x1="536.00" y1="570.00" x2="584.00" y2="522.00" stroke="#6a6a6a" stroke-width="0.65" />
<line x1="539.40" y1="570.00" x2="587.40" y2="522.00" stroke="#6a6a6a" stroke-width="0.65" />
<line x1="542.80" y1="570.00" x2="590.80" y2="522.00" stroke="#6a6a6a" stroke-width="0.65" />
<line x1="546.20" y1="570.00" x2="594.20" y2="522.00" stroke="#6a6a6a" stroke-width="0.65" />
<line x1="549.60" y1="570.00" x2="597.60" y2="522.00" stroke="#6a6a6a" stroke-width="0.65" />
<line x1="553.00" y1="570.00" x2="601.00" y2="522.00" stroke="#6a6a6a" stroke-width="0.65" />
<line x1="556.40" y1="570.00" x2="604.40" y2="522.00" stroke="#6a6a6a" stroke-width="0.65" />
<line x1="559.80" y1="570.00" x2="607.80" y2="522.00" stroke="#6a6a6a" stroke-width="0.65" />
<line x1="563.20" y1="570.00" x2="611.20" y2="522.00" stroke="#6a6a6a" stroke-width="0.65" />
<line x1="566.60" y1="570.00" x2="614.60" y2="522.00" stroke="#6a6a6a" stroke-width="0.65" />
<line x1="570.00" y1="570.00" x2="618.00" y2="522.00" stroke="#6a6a6a" stroke-width="0.65" />
<line x1="573.40" y1="570.00" x2="621.40" y2="522.00" stroke="#6a6a6a" stroke-width="0.65" />
<line x1="576.80" y1="570.00" x2="624.80" y2="522.00" stroke="#6a6a6a" stroke-width="0.65" />
<line x1="580.20" y1="570.00" x2="628.20" y2="522.00" stroke="#6a6a6a" stroke-width="0.65" />
<line x1="583.60" y1="570.00" x2="631.60" y2="522.00" stroke="#6a6a6a" stroke-width="0.65" />
<line x1="587.00" y1="570.00" x2="635.00" y2="522.00" stroke="#6a6a6a" stroke-width="0.65" />
<line x1="590.40" y1="570.00" x2="638.40" y2="522.00" stroke="#6a6a6a" stroke-width="0.65" />
<line x1="593.80" y1="570.00" x2="641.80" y2="522.00" stroke="#6a6a6a" stroke-width="0.65" />
<line x1="597.20" y1="570.00" x2="645.20" y2="522.00" stroke="#6a6a6a" stroke-width="0.65" />
<line x1="600.60" y1="570.00" x2="648.60" y2="522.00" stroke="#6a6a6a" stroke-width="0.65" />
<line x1="604.00" y1="570.00" x2="652.00" y2="522.00" stroke="#6a6a6a" stroke-width="0.65" />
<line x1="607.40" y1="570.00" x2="655.40" y2="522.00" stroke="#6a6a6a" stroke-width="0.65" />
<line x1="610.80" y1="570.00" x2="658.80" y2="522.00" stroke="#6a6a6a" stroke-width="0.65" />
<line x1="614.20" y1="570.00" x2="662.20" y2="522.00" stroke="#6a6a6a" stroke-width="0.65" />
<line x1="617.60" y1="570.00" x2="665.60" y2="522.00" stroke="#6a6a6a" stroke-width="0.65" />
<line x1="621.00" y1="570.00" x2="669.00" y2="522.00" stroke="#6a6a6a" stroke-width="0.65" />
<line x1="624.40" y1="570.00" x2="672.40" y2="522.00" stroke="#6a6a6a" stroke-width="0.65" />
<line x1="627.80" y1="570.00" x2="675.80" y2="522.00" stroke="#6a6a6a" stroke-width="0.65" />
<line x1="631.20" y1="570.00" x2="679.20" y2="522.00" stroke="#6a6a6a" stroke-width="0.65" />
<line x1="634.60" y1="570.00" x2="682.60" y2="522.00" stroke="#6a6a6a" stroke-width="0.65" />
<line x1="638.00" y1="570.00" x2="686.00" y2="522.00" stroke="#6a6a6a" stroke-width="0.65" />
<line x1="641.40" y1="570.00" x2="689.40" y2="522.00" stroke="#6a6a6a" stroke-width="0.65" />
<line x1="644.80" y1="570.00" x2="692.80" y2="522.00" stroke="#6a6a6a" stroke-width="0.65" />
<line x1="648.20" y1="570.00" x2="696.20" y2="522.00" stroke="#6a6a6a" stroke-width="0.65" />
<line x1="651.60" y1="570.00" x2="699.60" y2="522.00" stroke="#6a6a6a" stroke-width="0.65" />
<line x1="655.00" y1="570.00" x2="703.00" y2="522.00" stroke="#6a6a6a" stroke-width="0.65" />
<line x1="658.40" y1="570.00" x2="706.40" y2="522.00" stroke="#6a6a6a" stroke-width="0.65" />
</g>
<path d="M452.6,565.2 L546.6,534.3 L640.7,565.2" stroke="#666" stroke-width="0.8" fill="none" />
<line x1="546.60" y1="524.70" x2="546.60" y2="534.30" stroke="#4a4a4a" stroke-width="0.8" />
<path d="M491.7,557.5 L604.3,557.5 Q607.5,557.5 607.5,560.7 L607.5,566.5 Q607.5,572.5 603.3,572.5 L492.7,572.5 Q488.5,572.5 488.5,566.5 L488.5,560.7 Q488.5,557.5 491.7,557.5 Z" stroke="#4a4a4a" stroke-width="0.9" fill="#fff" />
<line x1="497.50" y1="557.50" x2="497.50" y2="566.50" stroke="#4a4a4a" stroke-width="0.9" />
<line x1="598.50" y1="557.50" x2="598.50" y2="566.50" stroke="#4a4a4a" stroke-width="0.9" />
<path d="M488.8,567.1 Q489.7,566.5 492.5,566.5 L603.5,566.5 Q606.3,566.5 607.2,567.1" stroke="#4a4a4a" stroke-width="0.9" fill="none" />
<path d="M490.0,569.0 Q491.0,568.5 493.5,568.5 L602.5,568.5 Q605.0,568.5 606.0,569.0" stroke="#4a4a4a" stroke-width="0.8" fill="none" />
<circle cx="522.2" cy="561.7" r="2.3" fill="#fff" stroke="#444" stroke-width="0.95"/>
<line x1="520.94" y1="561.70" x2="523.47" y2="561.70" stroke="#444" stroke-width="0.8" />
<line x1="522.20" y1="560.44" x2="522.20" y2="562.97" stroke="#444" stroke-width="0.8" />
<circle cx="573.3" cy="561.7" r="2.3" fill="#fff" stroke="#444" stroke-width="0.95"/>
<line x1="572.03" y1="561.70" x2="574.56" y2="561.70" stroke="#444" stroke-width="0.8" />
<line x1="573.30" y1="560.44" x2="573.30" y2="562.97" stroke="#444" stroke-width="0.8" />
<path d="M500.09999999999997,575.6 L500.09999999999997,570.0 Q502.7,568.4 505.3,570.0 L505.3,575.6" fill="#fff" stroke="#4a4a4a" stroke-width="0.8"/>
<line x1="500.00" y1="575.00" x2="505.40" y2="575.00" stroke="#333" stroke-width="1.4" />
<path d="M590.5,575.6 L590.5,570.0 Q593.1,568.4 595.7,570.0 L595.7,575.6" fill="#fff" stroke="#4a4a4a" stroke-width="0.8"/>
<line x1="590.40" y1="575.00" x2="595.80" y2="575.00" stroke="#333" stroke-width="1.4" />
<line x1="502.60" y1="575.60" x2="502.90" y2="633.00" stroke="#4a4a4a" stroke-width="0.7" />
<line x1="593.00" y1="575.60" x2="592.60" y2="633.00" stroke="#4a4a4a" stroke-width="0.7" />
<path d="M487.6,669.5 L487.6,636.8 L504.7,633.0999999999999 L519.6,636.8 L519.6,669.5" stroke="#4a4a4a" stroke-width="0.8" fill="#fff" />
<line x1="504.70" y1="633.10" x2="504.70" y2="665.80" stroke="#4a4a4a" stroke-width="0.8" />
<line x1="506.00" y1="633.40" x2="506.00" y2="665.80" stroke="#4a4a4a" stroke-width="0.6" />
<path d="M487.6,669.5 L502.6,673.5 L519.6,669.5" stroke="#4a4a4a" stroke-width="0.8" fill="none" />
<path d="M487.6,669.5 L504.7,665.8 L519.6,669.5" stroke="#4a4a4a" stroke-width="0.7200000000000001" fill="none" />
<line x1="502.60" y1="673.50" x2="502.60" y2="667.30" stroke="#4a4a4a" stroke-width="0.6400000000000001" />
<path d="M577.6,669.5 L577.6,636.8 L594.7,633.0999999999999 L609.6,636.8 L609.6,669.5" stroke="#4a4a4a" stroke-width="0.8" fill="#fff" />
<line x1="594.70" y1="633.10" x2="594.70" y2="665.80" stroke="#4a4a4a" stroke-width="0.8" />
<line x1="596.00" y1="633.40" x2="596.00" y2="665.80" stroke="#4a4a4a" stroke-width="0.6" />
<path d="M577.6,669.5 L592.6,673.5 L609.6,669.5" stroke="#4a4a4a" stroke-width="0.8" fill="none" />
<path d="M577.6,669.5 L594.7,665.8 L609.6,669.5" stroke="#4a4a4a" stroke-width="0.7200000000000001" fill="none" />
<line x1="592.60" y1="673.50" x2="592.60" y2="667.30" stroke="#4a4a4a" stroke-width="0.6400000000000001" />
<path d="M746.8,568.3 L771.3,610.6999999999999 L722.3,610.6999999999999 Z" stroke="#8a8a8a" stroke-width="1.2" fill="none" />
<rect x="744.6" y="577.9" width="4.2999999999999545" height="20.700000000000045" rx="2.1499999999999773" fill="none" stroke="#8a8a8a" stroke-width="1"/>
<circle cx="746.8" cy="604.3" r="2.3" fill="none" stroke="#8a8a8a" stroke-width="1"/>
<line x1="723.30" y1="620.10" x2="771.00" y2="620.10" stroke="#a8a8a8" stroke-width="1.2" />
<circle cx="738.5" cy="620.1" r="2.6" fill="#fff" stroke="#8a8a8a" stroke-width="1.1"/>
<circle cx="754.7" cy="620.1" r="2.6" fill="#fff" stroke="#8a8a8a" stroke-width="1.1"/>
<text x="747.00" y="631.20" font-family="Liberation Sans" font-size="10.5" font-weight="bold" fill="#e6e6e6" text-anchor="middle" dominant-baseline="central" letter-spacing="0" transform="rotate(0 747.00 631.20)" stroke="#999" stroke-width="0.65">ON</text>
<circle cx="814.9" cy="597.8" r="34.8" fill="none" stroke="#8a8a8a" stroke-width="1"/>
<rect x="802.80" y="573.60" width="15.60" height="36.40" rx="3" fill="none" stroke="#8a8a8a" stroke-width="1"/>
<path d="M811.70,575.90 L814.00,575.90 L811.30,580.20 L813.90,580.20 L806.90,586.80 L809.60,582.20 L807.00,582.20 L811.70,575.90" stroke="#8a8a8a" stroke-width="0.85" fill="none" />
<path d="M810.40,588.60 L810.40,592.20" stroke="#8a8a8a" stroke-width="0.9" fill="none" />
<rect x="805.20" y="594.40" width="10.80" height="7.60" rx="1" fill="none" stroke="#8a8a8a" stroke-width="0.9"/>
<path d="M807.60,597.70 L807.60,599.70" stroke="#8a8a8a" stroke-width="0.9" fill="none" />
<path d="M812.70,597.70 L812.70,599.70" stroke="#8a8a8a" stroke-width="0.9" fill="none" />
<circle cx="810.10" cy="605.80" r="2.0" fill="none" stroke="#8a8a8a" stroke-width="0.9"/>
<circle cx="817.70" cy="597.85" r="1.8" fill="#fff" stroke="#8a8a8a" stroke-width="0.9"/>
<path d="M818.75,596.10 L845.80,609.00" stroke="#8a8a8a" stroke-width="0.9" fill="none" />
<path d="M817.70,601.30 L834.00,610.70" stroke="#8a8a8a" stroke-width="0.9" fill="none" />
<path d="M829.90,607.20 L834.00,610.70" stroke="#8a8a8a" stroke-width="0.9" fill="none" />
<path d="M832.60,595.40 L832.90,592.80 L834.90,591.90 L848.60,604.40" stroke="#8a8a8a" stroke-width="0.9" fill="none" />
<path d="M832.60,595.40 L835.90,600.00 L838.90,602.40 L843.40,606.60" stroke="#8a8a8a" stroke-width="0.9" fill="none" />
<path d="M829.90,607.20 L830.40,609.30 L828.10,610.60 L828.40,613.00 L825.70,614.30 L825.90,617.30 L823.10,618.60 L822.20,620.40 L827.10,629.40" stroke="#8a8a8a" stroke-width="0.9" fill="none" />
<path d="M823.50,599.60 L824.50,601.60" stroke="#8a8a8a" stroke-width="0.9" fill="none" />
<path d="M828.70,602.40 L829.70,604.40" stroke="#8a8a8a" stroke-width="0.9" fill="none" />
<line x1="500.70" y1="366.80" x2="502.60" y2="368.50" stroke="#666" stroke-width="0.8" />
<line x1="591.50" y1="366.80" x2="593.40" y2="368.50" stroke="#666" stroke-width="0.8" />
<line x1="739.30" y1="336.30" x2="741.20" y2="338.00" stroke="#666" stroke-width="0.8" />
<line x1="829.50" y1="336.30" x2="831.40" y2="338.00" stroke="#666" stroke-width="0.8" />
<line x1="501.90" y1="598.10" x2="503.80" y2="599.80" stroke="#666" stroke-width="0.8" />
<line x1="591.80" y1="598.10" x2="593.70" y2="599.80" stroke="#666" stroke-width="0.8" />
</svg>
</body></html>
